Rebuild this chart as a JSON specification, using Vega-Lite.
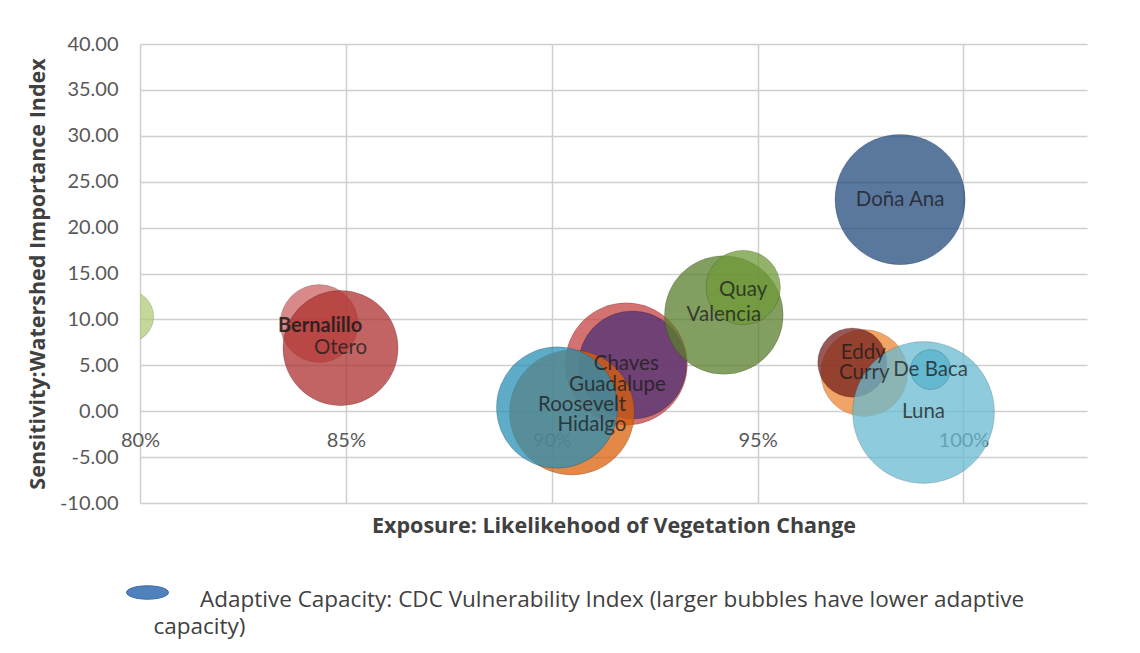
{
  "$schema": "https://vega.github.io/schema/vega-lite/v6.json",
  "autosize": {"type": "pad"},
  "padding": {"left": 26, "top": 33, "right": 20, "bottom": 20},
  "background": "white",
  "config": {
    "view": {"stroke": "transparent"},
    "font": "Lato",
    "concat": {"spacing": 0},
    "locale": {"number": {"decimal": ".", "thousands": ",", "grouping": [3], "currency": ["$", ""], "minus": "-"}}
  },
  "data": {
    "values": [
      {"county": "Unlabeled county", "exposure": 0.79706, "sensitivity": 10.32, "vulnerability": 0.132},
      {"county": "Bernalillo", "exposure": 0.8435, "sensitivity": 9.55, "vulnerability": 0.3025},
      {"county": "Otero", "exposure": 0.8487, "sensitivity": 6.88, "vulnerability": 0.66},
      {"county": "Chaves", "exposure": 0.9181, "sensitivity": 5.14, "vulnerability": 0.744},
      {"county": "Guadalupe", "exposure": 0.9196, "sensitivity": 5.03, "vulnerability": 0.581},
      {"county": "Hidalgo", "exposure": 0.9049, "sensitivity": -0.14, "vulnerability": 0.777},
      {"county": "Roosevelt", "exposure": 0.9013, "sensitivity": 0.4, "vulnerability": 0.733},
      {"county": "Valencia", "exposure": 0.9418, "sensitivity": 10.48, "vulnerability": 0.701},
      {"county": "Quay", "exposure": 0.9465, "sensitivity": 13.48, "vulnerability": 0.276},
      {"county": "Doña Ana", "exposure": 0.9846, "sensitivity": 23.06, "vulnerability": 0.844},
      {"county": "Curry", "exposure": 0.9759, "sensitivity": 4.16, "vulnerability": 0.375},
      {"county": "Eddy", "exposure": 0.973, "sensitivity": 5.3, "vulnerability": 0.238},
      {"county": "Luna", "exposure": 0.9903, "sensitivity": -0.14, "vulnerability": 1.0},
      {"county": "De Baca", "exposure": 0.992, "sensitivity": 4.54, "vulnerability": 0.079}
    ]
  },
  "hconcat": [
    {
      "width": 947,
      "height": 459,
      "encoding": {
        "x": {
          "field": "exposure",
          "type": "quantitative",
          "scale": {"domain": [0.8, 1.03], "nice": false, "zero": false},
          "axis": {
            "title": "Exposure: Likelikehood of Vegetation Change",
            "values": [0.8, 0.85, 0.9, 0.95, 1.0],
            "format": ".0%",
            "offset": -92,
            "domain": false,
            "ticks": false,
            "tickSize": 0,
            "labelPadding": 19,
            "labelFontSize": 20,
            "labelColor": "#595959",
            "labelFlush": false,
            "labelOverlap": false,
            "grid": true,
            "gridColor": "#cfcfcf",
            "gridWidth": 1.5,
            "titleFont": "Open Sans",
            "titleFontSize": 21.5,
            "titleFontWeight": "bold",
            "titleColor": "#404040",
            "titleY": 115,
            "titleBaseline": "middle"
          }
        },
        "y": {
          "field": "sensitivity",
          "type": "quantitative",
          "scale": {"domain": [-10, 40], "nice": false, "zero": false},
          "axis": {
            "title": "Sensitivity:Watershed Importance Index",
            "values": [-10, -5, 0, 5, 10, 15, 20, 25, 30, 35, 40],
            "format": ".2f",
            "domain": false,
            "ticks": false,
            "tickSize": 0,
            "labelPadding": 22,
            "labelFontSize": 20,
            "labelColor": "#595959",
            "grid": true,
            "gridColor": "#cfcfcf",
            "gridWidth": 1.5,
            "titleFont": "Open Sans",
            "titleFontSize": 21.5,
            "titleFontWeight": "bold",
            "titleColor": "#404040",
            "titleX": -102,
            "titleY": 229.5,
            "titleBaseline": "middle"
          }
        }
      },
      "layer": [
        {
          "mark": {"type": "circle", "clip": true, "fillOpacity": 0.75, "stroke": "#000000", "strokeOpacity": 0.15, "strokeWidth": 1},
          "encoding": {
            "size": {"field": "vulnerability", "type": "quantitative", "scale": {"type": "linear", "domain": [0, 1], "range": [0, 20106], "zero": true}, "legend": null},
            "fill": {
              "field": "county",
              "type": "nominal",
              "legend": null,
              "scale": {
                "domain": ["Unlabeled county", "Bernalillo", "Otero", "Chaves", "Guadalupe", "Hidalgo", "Roosevelt", "Valencia", "Quay", "Doña Ana", "Curry", "Eddy", "Luna", "De Baca"],
                "range": ["#AFCB78", "#CB6363", "#AE302F", "#C64343", "#4D3276", "#D9600A", "#2A90B5", "#5A7E2C", "#6F9838", "#234B7D", "#EE8633", "#74201E", "#68BAD0", "#55B2CC"]
              }
            }
          }
        },
        {
          "transform": [{"filter": {"field": "county", "oneOf": ["Otero", "Chaves", "Valencia", "Doña Ana", "Curry", "Luna", "De Baca"]}}],
          "mark": {"type": "text", "fontSize": 20.5, "fill": "#1a1a1a", "opacity": 0.75, "align": "center", "baseline": "middle"},
          "encoding": {"text": {"field": "county"}}
        },
        {
          "transform": [{"filter": {"field": "county", "equal": "Quay"}}],
          "mark": {"type": "text", "fontSize": 20.5, "fill": "#1a1a1a", "opacity": 0.75, "align": "center", "baseline": "middle", "dy": 3},
          "encoding": {"text": {"field": "county"}}
        },
        {
          "transform": [{"filter": {"field": "county", "equal": "Bernalillo"}}],
          "mark": {"type": "text", "fontSize": 20, "fontWeight": "bold", "fill": "#1a1a1a", "opacity": 0.85, "align": "center", "baseline": "middle", "dx": 1, "dy": 2},
          "encoding": {"text": {"field": "county"}}
        },
        {
          "transform": [{"filter": {"field": "county", "equal": "Guadalupe"}}],
          "mark": {"type": "text", "fontSize": 20.5, "fill": "#1a1a1a", "opacity": 0.75, "align": "center", "baseline": "middle", "dx": -15, "dy": 20},
          "encoding": {"text": {"field": "county"}}
        },
        {
          "transform": [{"filter": {"field": "county", "equal": "Roosevelt"}}],
          "mark": {"type": "text", "fontSize": 20.5, "fill": "#1a1a1a", "opacity": 0.75, "align": "center", "baseline": "middle", "dx": 25, "dy": -3},
          "encoding": {"text": {"field": "county"}}
        },
        {
          "transform": [{"filter": {"field": "county", "equal": "Hidalgo"}}],
          "mark": {"type": "text", "fontSize": 20.5, "fill": "#1a1a1a", "opacity": 0.75, "align": "center", "baseline": "middle", "dx": 20, "dy": 13},
          "encoding": {"text": {"field": "county"}}
        },
        {
          "transform": [{"filter": {"field": "county", "equal": "Eddy"}}],
          "mark": {"type": "text", "fontSize": 20.5, "fill": "#1a1a1a", "opacity": 0.75, "align": "center", "baseline": "middle", "dx": 11, "dy": -10},
          "encoding": {"text": {"field": "county"}}
        },
        {
          "transform": [{"filter": {"field": "county", "equal": "Luna"}}],
          "mark": {"type": "point", "filled": true, "opacity": 0, "size": 1},
          "encoding": {
            "color": {
              "datum": "Adaptive Capacity: CDC Vulnerability Index (larger bubbles have lower adaptive",
              "scale": {"range": ["#4F81BD"]},
              "legend": {
                "orient": "none",
                "legendX": -14,
                "legendY": 523,
                "title": null,
                "padding": 0,
                "symbolType": "M-1,0.19A1,0.32,0,1,1,1,0.19A1,0.32,0,1,1,-1,0.19Z",
                "symbolSize": 1764,
                "symbolOpacity": 1,
                "symbolFillColor": "#4F81BD",
                "symbolStrokeColor": "#3A6B9F",
                "symbolStrokeWidth": 1,
                "labelFont": "Open Sans",
                "labelFontSize": 22.5,
                "labelColor": "#404040",
                "labelLimit": 0,
                "labelOffset": 31,
                "labelBaseline": "top"
              }
            }
          }
        },
        {
          "transform": [{"filter": {"field": "county", "equal": "Luna"}}],
          "mark": {"type": "point", "filled": true, "opacity": 0, "size": 1},
          "encoding": {
            "shape": {
              "datum": "capacity)",
              "scale": {"range": ["circle"]},
              "legend": {
                "orient": "none",
                "legendX": -9,
                "legendY": 561,
                "title": null,
                "padding": 0,
                "symbolSize": 1,
                "symbolOpacity": 0,
                "symbolStrokeWidth": 0,
                "labelFont": "Open Sans",
                "labelFontSize": 22.5,
                "labelColor": "#404040",
                "labelLimit": 0,
                "labelOffset": 0,
                "labelBaseline": "top"
              }
            }
          }
        }
      ]
    }
  ]
}
